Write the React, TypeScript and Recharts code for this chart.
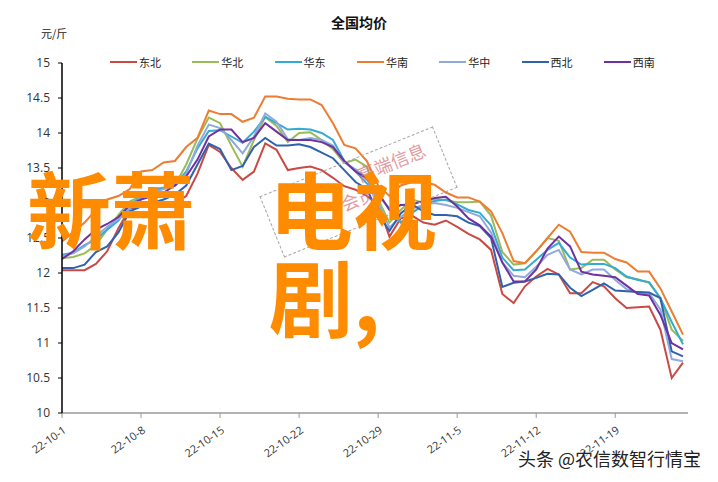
import React from 'react'
import { LineChart, Line, XAxis, YAxis } from 'recharts'

// 日期（22-10-1 ~ 22-11-25）
const dates = [
  '22-10-1', '22-10-2', '22-10-3', '22-10-4', '22-10-5', '22-10-6', '22-10-7',
  '22-10-8', '22-10-9', '22-10-10', '22-10-11', '22-10-12', '22-10-13', '22-10-14',
  '22-10-15', '22-10-16', '22-10-17', '22-10-18', '22-10-19', '22-10-20', '22-10-21',
  '22-10-22', '22-10-23', '22-10-24', '22-10-25', '22-10-26', '22-10-27', '22-10-28',
  '22-10-29', '22-10-30', '22-10-31', '22-11-1', '22-11-2', '22-11-3', '22-11-4',
  '22-11-5', '22-11-6', '22-11-7', '22-11-8', '22-11-9', '22-11-10', '22-11-11',
  '22-11-12', '22-11-13', '22-11-14', '22-11-15', '22-11-16', '22-11-17', '22-11-18',
  '22-11-19', '22-11-20', '22-11-21', '22-11-22', '22-11-23', '22-11-24', '22-11-25',
]

const dongbei = [
  12.04, 12.04, 12.04, 12.13, 12.31, 12.64, 12.92, 12.95, 12.95, 12.97, 13.0, 13.1, 13.42, 13.83,
  13.73, 13.5, 13.33, 13.45, 13.85, 13.76, 13.47, 13.5, 13.52, 13.47, 13.36, 13.24, 13.19, 13.1,
  12.98, 12.52, 12.78, 12.82, 12.72, 12.69, 12.75, 12.66, 12.56, 12.48, 12.33, 11.7, 11.57, 11.81,
  11.95, 12.06, 11.98, 11.71, 11.71, 11.87, 11.81, 11.64, 11.5, 11.51, 11.52, 11.19, 10.5, 10.72,
]
const huabei = [
  12.21, 12.23, 12.28, 12.4, 12.62, 12.83, 13.02, 13.1, 13.2, 13.22, 13.25, 13.55, 13.92, 14.22,
  14.14, 13.82, 13.52, 13.9, 14.23, 14.1, 13.87, 14.0, 14.01, 13.9, 13.77, 13.57, 13.62, 13.52,
  13.05, 12.72, 12.9, 13.05, 13.0, 13.06, 13.04, 13.01, 13.01, 13.02, 12.82, 12.3, 12.12, 12.14,
  12.31, 12.5, 12.46, 12.05, 12.07, 12.19, 12.19, 12.05, 11.94, 11.91, 11.86, 11.64, 11.19, 11.03,
]
const huadong = [
  12.26, 12.29, 12.4, 12.48, 12.62, 12.75, 12.97, 13.09, 13.18, 13.21, 13.25, 13.45, 13.78, 14.03,
  14.04, 13.95, 13.86, 14.02, 14.23, 14.14, 14.05, 14.06, 14.05, 14.0, 13.9, 13.6, 13.45, 13.28,
  13.12, 12.92, 12.72, 12.86, 12.97, 13.03, 13.05, 12.98, 12.9, 12.86, 12.68, 12.22, 12.04, 12.05,
  12.19, 12.33, 12.43, 12.22, 12.12, 12.13, 12.13, 12.07, 11.95, 11.9, 11.87, 11.64, 11.3, 10.98,
]
const huanan = [
  12.45, 12.58, 12.72, 12.9, 13.05, 13.1, 13.2, 13.45, 13.47, 13.58, 13.6, 13.8, 13.93, 14.32,
  14.27, 14.27, 14.16, 14.22, 14.52, 14.52, 14.49, 14.48, 14.48, 14.4, 14.14, 13.83, 13.78, 13.6,
  13.25, 13.1, 13.25, 13.3, 13.3, 13.26, 13.15, 13.08, 13.08, 13.02, 12.88, 12.57, 12.17, 12.14,
  12.31, 12.5, 12.69, 12.59, 12.3, 12.29, 12.29, 12.2, 12.15, 12.02, 12.02, 11.78, 11.45, 11.12,
]
const huazhong = [
  12.24, 12.28, 12.38, 12.52, 12.66, 12.77, 12.92, 13.08, 13.15, 13.2, 13.25, 13.42, 13.82, 14.12,
  14.07, 13.9, 13.71, 13.95, 14.28, 14.16, 13.91, 13.9, 13.93, 13.9, 13.82, 13.58, 13.48, 13.35,
  13.0, 12.65, 12.8, 12.92, 12.97, 13.0, 12.97, 12.93, 12.87, 12.81, 12.58, 12.15, 11.96, 11.94,
  12.09, 12.26, 12.33, 12.05, 11.98, 12.05, 12.05, 11.9, 11.77, 11.72, 11.71, 11.48, 10.77, 10.74,
]
const xibei = [
  12.07, 12.07, 12.12, 12.3, 12.38, 12.58, 12.88, 12.95, 13.0, 13.05, 13.12, 13.25, 13.55, 13.85,
  13.77, 13.47, 13.53, 13.8, 13.93, 13.82, 13.82, 13.84, 13.8, 13.72, 13.64, 13.47, 13.3, 13.2,
  12.85, 12.6, 12.85, 12.98, 12.88, 12.83, 12.83, 12.81, 12.72, 12.67, 12.5, 11.8, 11.86, 11.88,
  11.93, 11.99, 11.98, 11.79, 11.67, 11.76, 11.85, 11.75, 11.74, 11.73, 11.72, 11.64, 10.88, 10.81,
]
const xinan = [
  12.2, 12.31, 12.48, 12.62, 12.7, 12.8, 12.97, 13.05, 13.1, 13.15, 13.25, 13.38, 13.62, 13.95,
  14.05, 14.05, 13.87, 13.93, 14.14, 14.02, 13.9, 13.9, 13.9, 13.87, 13.8, 13.6, 13.45, 13.35,
  13.15, 12.9, 12.97, 12.98, 13.03, 13.07, 13.09, 12.95, 12.78, 12.68, 12.52, 12.15, 11.88, 11.88,
  12.05, 12.35, 12.52, 12.38, 12.02, 11.98, 11.96, 11.94, 11.82, 11.7, 11.68, 11.4, 11.0, 10.91,
]

const yTicks = [10, 10.5, 11, 11.5, 12, 12.5, 13, 13.5, 14, 14.5, 15]

const series = [
  { key: 'dongbei', name: '东北', color: '#c94a44', values: dongbei },
  { key: 'huabei', name: '华北', color: '#9bbb59', values: huabei },
  { key: 'huadong', name: '华东', color: '#35aad3', values: huadong },
  { key: 'huanan', name: '华南', color: '#ec7d31', values: huanan },
  { key: 'huazhong', name: '华中', color: '#8eaadb', values: huazhong },
  { key: 'xibei', name: '西北', color: '#2f62ae', values: xibei },
  { key: 'xinan', name: '西南', color: '#7030a0', values: xinan },
]

const data = dates.map((d, i) => {
  const row: Record<string, string | number> = { date: d }
  series.forEach((s) => {
    row[s.key] = s.values[i]
  })
  return row
})

const FONT = "'Open Sans', 'Noto Sans CJK SC', sans-serif"
const CJK = "'Noto Sans CJK SC', sans-serif"

function DateTick(props: any) {
  const { x, y, payload } = props
  const tx = x + 5
  const ty = y + 12
  return (
    <text
      x={tx}
      y={ty}
      transform={`rotate(-35 ${tx} ${ty})`}
      textAnchor="end"
      fontSize={11}
      fill="#333"
      fontFamily={FONT}
    >
      {payload.value}
    </text>
  )
}

export default function App() {
  return (
    <div
      style={{
        position: 'absolute',
        left: 0,
        top: 0,
        width: 718,
        height: 482,
        background: '#fff',
        overflow: 'hidden',
        fontFamily: FONT,
      }}
    >
      <LineChart
        width={718}
        height={482}
        data={data}
        margin={{ top: 63, right: 30, bottom: 9, left: 12 }}
      >
        <XAxis
          dataKey="date"
          interval={6}
          height={60}
          tickSize={5}
          padding={{ left: 0, right: 5 }}
          axisLine={{ stroke: '#9a9a9a', strokeWidth: 1.5 }}
          tickLine={{ stroke: '#9a9a9a' }}
          tick={<DateTick />}
        />
        <YAxis
          domain={[10, 15]}
          ticks={yTicks}
          interval={0}
          width={50}
          tickSize={4}
          tickMargin={8}
          axisLine={{ stroke: '#000', strokeWidth: 1.5 }}
          tickLine={{ stroke: '#000' }}
          tick={{ fontSize: 12, fill: '#333', fontFamily: FONT }}
        />
        {series.map((s) => (
          <Line
            key={s.key}
            type="linear"
            dataKey={s.key}
            name={s.name}
            stroke={s.color}
            strokeWidth={2}
            dot={false}
            isAnimationActive={false}
          />
        ))}
      </LineChart>

      {/* 标题和单位 */}
      <div
        style={{
          position: 'absolute',
          left: 259,
          top: 12,
          width: 200,
          textAlign: 'center',
          fontSize: 14,
          fontWeight: 700,
          fontFamily: CJK,
          color: '#111',
        }}
      >
        全国均价
      </div>
      <div style={{ position: 'absolute', left: 41, top: 25, fontSize: 11, fontFamily: CJK, color: '#222' }}>
        元/斤
      </div>

      {/* 图例 */}
      {series.map((s, i) => (
        <div
          key={s.key}
          style={{
            position: 'absolute',
            left: 110 + i * 82.3,
            top: 54,
            height: 16,
            display: 'flex',
            alignItems: 'center',
            fontSize: 11,
            fontFamily: CJK,
            color: '#222',
          }}
        >
          <span style={{ display: 'inline-block', width: 27, height: 2, background: s.color, marginRight: 2 }} />
          {s.name}
        </div>
      ))}

      {/* 水印印章 */}
      <div
        style={{
          position: 'absolute',
          left: 357 - 92,
          top: 191 - 32,
          width: 185,
          height: 64,
          border: '1px dashed #a8a8a8',
          transform: 'rotate(-22deg)',
          fontFamily: CJK,
          color: 'rgba(214, 110, 118, 0.7)',
          fontSize: 18,
          lineHeight: '20px',
        }}
      >
        <div style={{ position: 'absolute', left: 98, top: 6 }}>高端信息</div>
        <div style={{ position: 'absolute', left: 72, top: 27 }}>会员</div>
      </div>

      {/* 橙色大字 */}
      <div
        style={{
          position: 'absolute',
          left: 27,
          top: 163,
          fontSize: 84,
          lineHeight: '88px',
          fontWeight: 700,
          color: '#ff8c00',
          fontFamily: CJK,
          whiteSpace: 'nowrap',
        }}
      >
        新萧
      </div>
      <div
        style={{
          position: 'absolute',
          left: 269,
          top: 163,
          width: 172,
          fontSize: 84,
          lineHeight: '88px',
          fontWeight: 700,
          color: '#ff8c00',
          fontFamily: CJK,
        }}
      >
        电视剧,
      </div>

      {/* 来源 */}
      <div
        style={{
          position: 'absolute',
          left: 518,
          top: 445,
          fontSize: 18,
          fontFamily: CJK,
          color: '#222',
          whiteSpace: 'nowrap',
          textShadow: '0 0 2px #fff, 0 0 2px #fff, 0 0 3px #fff',
        }}
      >
        头条 @农信数智行情宝
      </div>
    </div>
  )
}
